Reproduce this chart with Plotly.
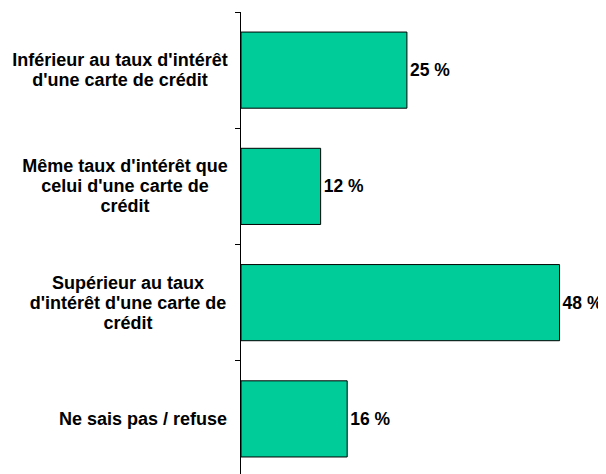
import plotly.graph_objects as go

categories = [
    "Inférieur au taux d'intérêt<br>d'une carte de crédit",
    "Même taux d'intérêt que<br>celui d'une carte de<br>crédit",
    "Supérieur au taux<br>d'intérêt d'une carte de<br>crédit",
    "Ne sais pas / refuse",
]
values = [25, 12, 48, 16]
value_labels = ["25 %", "12 %", "48 %", "16 %"]

FONT = "Liberation Sans, Arial, sans-serif"
LINE_GAP = 20
# layout: width of the centring box for each category label
LABEL_BOX_W = [218, 208, 202, 172]

fig = go.Figure(go.Bar(
    x=values,
    y=categories,
    orientation="h",
    width=0.655,
    marker=dict(color="#00CC99", line=dict(color="black", width=1)),
    text=value_labels,
    textposition="outside",
    cliponaxis=False,
    textfont=dict(family=FONT, size=17.5, color="black", weight="bold"),
))

annotations = []
for c, w in zip(categories, LABEL_BOX_W):
    lines = c.split("<br>")
    n = len(lines)
    for i, line in enumerate(lines):
        annotations.append(dict(
            x=0, xref="paper", y=c, yref="y",
            text=line, showarrow=False, xanchor="right", yanchor="middle",
            align="center", width=w, xshift=-10,
            yshift=((n - 1) / 2 - i) * LINE_GAP,
            font=dict(family=FONT, size=18, color="black", weight="bold"),
        ))

fig.update_layout(
    width=598, height=466,
    margin=dict(l=233, r=0, t=4, b=0),
    paper_bgcolor="white", plot_bgcolor="white",
    showlegend=False,
    xaxis=dict(range=[0, 55], visible=False),
    yaxis=dict(
        type="category",
        categoryorder="array",
        categoryarray=categories[::-1],
        range=[-0.474, 3.5],
        showticklabels=False,
        showline=True, linecolor="black", linewidth=1,
        ticks="outside", ticklen=5, tickcolor="black", tickwidth=1,
        tickson="boundaries",
        showgrid=False, zeroline=False,
    ),
    annotations=annotations,
)

fig.write_html("out.html")
